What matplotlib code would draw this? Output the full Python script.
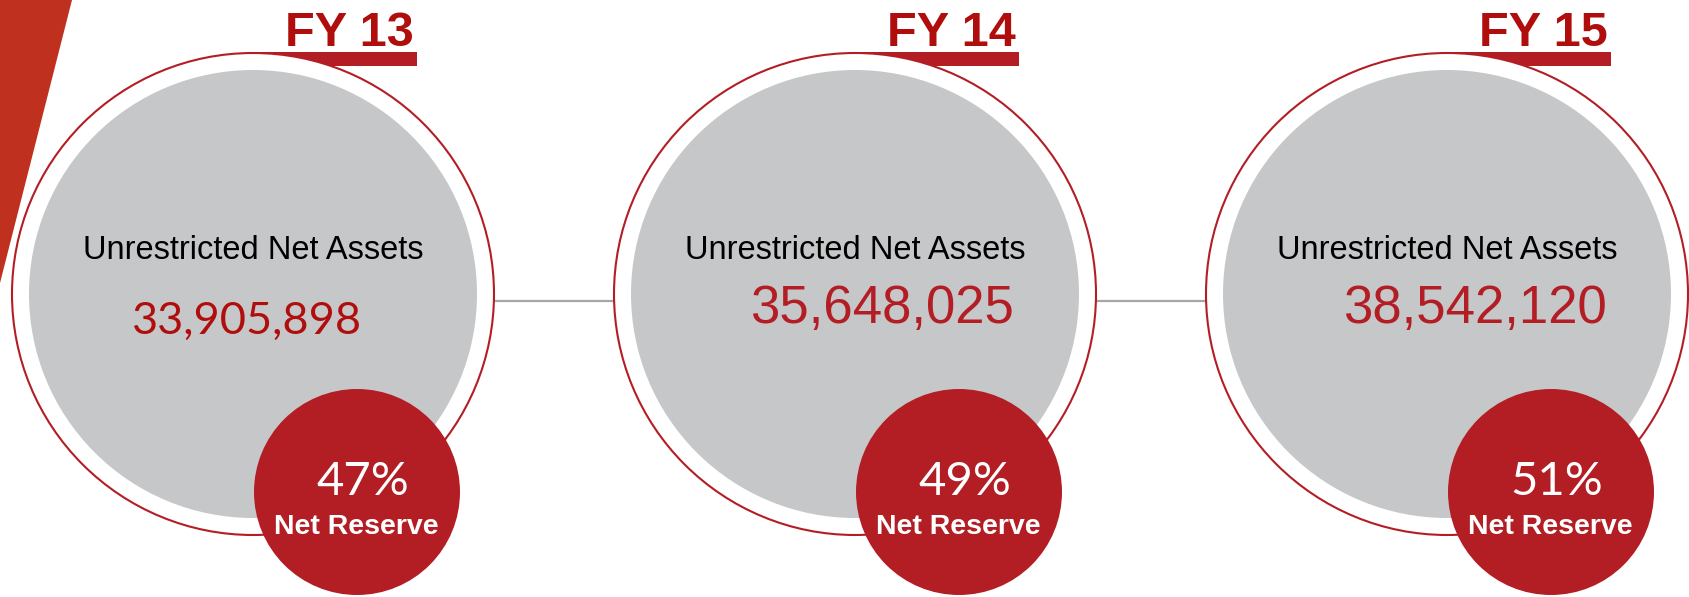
import matplotlib
matplotlib.use("Agg")
import matplotlib.pyplot as plt
from matplotlib.patches import Circle, Rectangle, Polygon

# data
years = ["FY 13", "FY 14", "FY 15"]
net_assets = [33905898, 35648025, 38542120]
net_reserve = [47, 49, 51]

# layout (pixels, y down)
W, H = 1689, 597
centers_x = [253, 855, 1447]
center_y = 294
r_ring = 241
r_gray = 224
r_red = 103
red_dx, red_dy = 104, 198
num_left = [131, 750, 1343]
num_base = [334, 323, 323]
num_font = ["Lato", "Liberation Sans", "Liberation Sans"]
num_size = [32.5, 38, 38]

RED = "#b31e25"
DARK_RED = "#b00d0d"
GRAY = "#c6c7c9"

fig = plt.figure(figsize=(W / 100, H / 100), dpi=100)
ax = fig.add_axes([0, 0, 1, 1])
ax.set_xlim(0, W)
ax.set_ylim(H, 0)
ax.set_aspect("equal")
ax.axis("off")

# corner wedge
ax.add_patch(Polygon([(0, 0), (72, 0), (0, 283)], closed=True,
                     facecolor="#c0301e", edgecolor="none", zorder=0))

# connector line
ax.plot([centers_x[0], centers_x[-1]], [300.5, 300.5], color="#a6a6a6",
        lw=1.6, zorder=0.5, solid_capstyle="butt")

for i, cx in enumerate(centers_x):
    # underline bar behind the ring
    ax.add_patch(Rectangle((cx, 52), 164, 14, facecolor=RED,
                           edgecolor="none", zorder=1))
    ax.add_patch(Circle((cx, center_y), r_ring, facecolor="white",
                        edgecolor=RED, lw=1.5, zorder=2))
    ax.add_patch(Circle((cx, center_y), r_gray, facecolor=GRAY,
                        edgecolor="none", zorder=3))
    rx, ry = cx + red_dx, center_y + red_dy
    ax.add_patch(Circle((rx, ry), r_red, facecolor=RED,
                        edgecolor="none", zorder=4))

    ax.text(cx + 161, 46, years[i], ha="right", va="baseline",
            family="Liberation Sans", weight="bold", fontsize=35,
            color=DARK_RED, zorder=5)
    ax.text(cx, 259, "Unrestricted Net Assets", ha="center", va="baseline",
            family="Liberation Sans", fontsize=23.5, color="black", zorder=5)
    ax.text(num_left[i], num_base[i], f"{net_assets[i]:,}", ha="left",
            va="baseline", family=num_font[i], fontsize=num_size[i],
            color=RED if i else DARK_RED, zorder=5)
    ax.text(rx + 6, 495, f"{net_reserve[i]}%", ha="center", va="baseline",
            family="Lato", fontsize=34, color="white", zorder=5)
    ax.text(rx - 1, 534, "Net Reserve", ha="center", va="baseline",
            family="Liberation Sans", weight="bold", fontsize=20.5,
            color="white", zorder=5)

fig.savefig("out.png", dpi=100)
